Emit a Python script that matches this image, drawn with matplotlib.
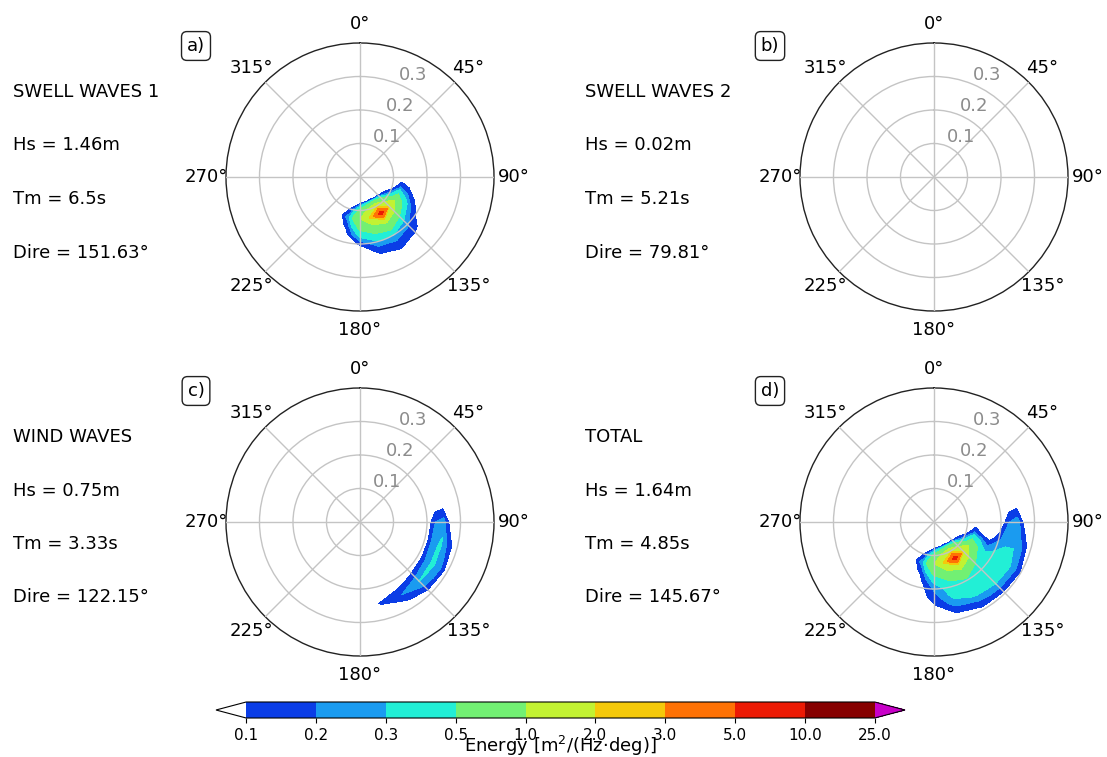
import numpy as np
import matplotlib
matplotlib.use('Agg')
import matplotlib.pyplot as plt
from matplotlib.colors import ListedColormap, BoundaryNorm
from matplotlib.cm import ScalarMappable

# niveles de energia y colores de la barra
LEVELS = [0.1, 0.2, 0.3, 0.5, 1.0, 2.0, 3.0, 5.0, 10.0, 25.0]
COLORS = ['#0b3de6', '#1a9bf0', '#22efd6', '#72f073', '#c2f232',
          '#f5c90a', '#ff7205', '#ec1a04', '#860000']

# malla del espectro: direccion (grados) x frecuencia (Hz)
DIRS = [60, 75, 90, 105, 120, 135, 150, 165, 180, 195, 210, 225]
FREQS = [0.05, 0.075, 0.1, 0.125, 0.15, 0.175, 0.2, 0.225, 0.25, 0.275, 0.3, 0.325]

# filas = frecuencias, columnas = direcciones
swell1 = [
    [0, 0, 0, 0, 0, 0, 0, 0, 0, 0, 0, 0],
    [0, 0, 0, 0, 0, 0.05, 0.11, 0.1, 0, 0, 0, 0],
    [0, 0, 0, 0, 0.25, 0.9, 1.5, 1.1, 0.6, 0.12, 0, 0],
    [0, 0, 0, 0.22, 0.7, 1.8, 6.0, 2.2, 1.0, 0.3, 0, 0],
    [0, 0, 0, 0.12, 0.4, 0.8, 1.2, 0.9, 0.6, 0.13, 0, 0],
    [0, 0, 0, 0, 0.2, 0.35, 0.6, 0.5, 0.35, 0.05, 0, 0],
    [0, 0, 0, 0, 0.05, 0.22, 0.3, 0.28, 0.12, 0, 0, 0],
    [0, 0, 0, 0, 0, 0.14, 0.17, 0.14, 0, 0, 0, 0],
    [0, 0, 0, 0, 0, 0, 0.09, 0.05, 0, 0, 0, 0],
    [0, 0, 0, 0, 0, 0, 0, 0, 0, 0, 0, 0],
    [0, 0, 0, 0, 0, 0, 0, 0, 0, 0, 0, 0],
    [0, 0, 0, 0, 0, 0, 0, 0, 0, 0, 0, 0],
]

swell2 = [
    [0, 0, 0, 0, 0, 0, 0, 0, 0, 0, 0, 0],
    [0, 0, 0, 0, 0, 0, 0, 0, 0, 0, 0, 0],
    [0, 0, 0, 0, 0, 0, 0, 0, 0, 0, 0, 0],
    [0, 0, 0, 0, 0, 0, 0, 0, 0, 0, 0, 0],
    [0, 0, 0.01, 0.01, 0, 0, 0, 0, 0, 0, 0, 0],
    [0, 0.01, 0.02, 0.01, 0, 0, 0, 0, 0, 0, 0, 0],
    [0, 0, 0.01, 0.01, 0, 0, 0, 0, 0, 0, 0, 0],
    [0, 0, 0, 0, 0, 0, 0, 0, 0, 0, 0, 0],
    [0, 0, 0, 0, 0, 0, 0, 0, 0, 0, 0, 0],
    [0, 0, 0, 0, 0, 0, 0, 0, 0, 0, 0, 0],
    [0, 0, 0, 0, 0, 0, 0, 0, 0, 0, 0, 0],
    [0, 0, 0, 0, 0, 0, 0, 0, 0, 0, 0, 0],
]

wind = [
    [0, 0, 0, 0, 0, 0, 0, 0, 0, 0, 0, 0],
    [0, 0, 0, 0, 0, 0, 0, 0, 0, 0, 0, 0],
    [0, 0, 0, 0, 0, 0, 0, 0, 0, 0, 0, 0],
    [0, 0, 0, 0, 0, 0, 0, 0, 0, 0, 0, 0],
    [0, 0, 0, 0, 0, 0, 0, 0, 0, 0, 0, 0],
    [0, 0, 0, 0, 0, 0, 0, 0, 0, 0, 0, 0],
    [0, 0, 0, 0, 0, 0, 0, 0, 0, 0, 0, 0],
    [0, 0, 0.2, 0.24, 0.2, 0.15, 0.08, 0, 0, 0, 0, 0],
    [0, 0, 0.25, 0.32, 0.33, 0.305, 0.2, 0.12, 0, 0, 0, 0],
    [0, 0, 0, 0.15, 0.22, 0.18, 0.08, 0, 0, 0, 0, 0],
    [0, 0, 0, 0, 0.02, 0, 0, 0, 0, 0, 0, 0],
    [0, 0, 0, 0, 0, 0, 0, 0, 0, 0, 0, 0],
]

total = [
    [0, 0, 0, 0, 0, 0, 0, 0, 0, 0, 0, 0],
    [0, 0, 0, 0, 0, 0.05, 0.11, 0.1, 0, 0, 0, 0],
    [0, 0, 0, 0, 0.25, 0.9, 1.5, 1.1, 0.6, 0.12, 0, 0],
    [0, 0, 0, 0.22, 0.7, 1.8, 6.0, 2.2, 1.0, 0.3, 0, 0],
    [0, 0, 0, 0.1, 0.5, 0.9, 1.3, 1.0, 0.6, 0.13, 0, 0],
    [0, 0, 0, 0.04, 0.3, 0.5, 0.7, 0.55, 0.35, 0.05, 0, 0],
    [0, 0, 0, 0.18, 0.35, 0.42, 0.45, 0.38, 0.22, 0, 0, 0],
    [0, 0, 0.2, 0.26, 0.4, 0.42, 0.4, 0.34, 0.15, 0, 0, 0],
    [0, 0, 0.26, 0.28, 0.36, 0.36, 0.32, 0.25, 0.08, 0, 0, 0],
    [0, 0, 0, 0.18, 0.25, 0.22, 0.18, 0.12, 0, 0, 0, 0],
    [0, 0, 0, 0, 0.08, 0.06, 0.06, 0, 0, 0, 0, 0],
    [0, 0, 0, 0, 0, 0, 0, 0, 0, 0, 0, 0],
]

panel_tags = ['a)', 'b)', 'c)', 'd)']
panel_titles = ['SWELL WAVES 1', 'SWELL WAVES 2', 'WIND WAVES', 'TOTAL']
hs = [1.46, 0.02, 0.75, 1.64]
tm = ['6.5', '5.21', '3.33', '4.85']
dire = ['151.63', '79.81', '122.15', '145.67']
spectra = [swell1, swell2, wind, total]

W, H = 1107, 757
fig = plt.figure(figsize=(W / 100, H / 100), dpi=100)

cmap = ListedColormap(COLORS)
cmap.set_under('white')
cmap.set_over('#c800c8')
norm = BoundaryNorm(LEVELS, cmap.N)

# centros de los paneles en pixeles (x, y desde arriba)
centers = [(360, 177), (934, 177), (360, 522), (934, 522)]
R = 134
text_x = [13, 585, 13, 585]

theta = np.deg2rad(DIRS)
for i, (cx, cy) in enumerate(centers):
    ax = fig.add_axes([(cx - R) / W, 1 - (cy + R) / H, 2 * R / W, 2 * R / H],
                      projection='polar')
    ax.set_theta_zero_location('N')
    ax.set_theta_direction(-1)
    Z = np.array(spectra[i])
    if Z.max() >= LEVELS[0]:
        ax.contourf(theta, FREQS, Z, levels=LEVELS, cmap=cmap, norm=norm,
                    extend='max', zorder=1)
    ax.set_ylim(0, 0.4)
    ax.set_yticks([0.1, 0.2, 0.3])
    ax.set_yticklabels(['0.1', '0.2', '0.3'], color='#8c8c8c', fontsize=13)
    ax.set_rlabel_position(22.5)
    ax.set_thetagrids(range(0, 360, 45), fontsize=13)
    ax.set_axisbelow(False)
    ax.grid(color='#c4c4c4', linewidth=1.0)
    ax.spines['polar'].set_linewidth(1.0)
    ax.spines['polar'].set_color('#222222')

    # etiqueta del panel
    fig.text((cx - 164) / W, 1 - (cy - 131) / H, panel_tags[i], ha='center',
             va='center', fontsize=13,
             bbox=dict(boxstyle='round,pad=0.3', fc='white', ec='#222222', lw=1))

    # textos de resumen
    base = cy - 80
    lines = [panel_titles[i], 'Hs = %.2fm' % hs[i], 'Tm = %ss' % tm[i],
             'Dire = %s°' % dire[i]]
    for k, txt in enumerate(lines):
        fig.text(text_x[i] / W, 1 - (base + 53.5 * k) / H, txt, ha='left',
                 va='baseline', fontsize=13)

# barra de colores (incluye los triangulos de extension)
cax = fig.add_axes([216 / W, 1 - 718 / H, 689 / W, 16 / H])
sm = ScalarMappable(norm=norm, cmap=cmap)
cb = fig.colorbar(sm, cax=cax, orientation='horizontal', extend='both',
                  ticks=LEVELS, spacing='uniform', extendfrac=0.048)
cb.ax.set_xticklabels(['%.1f' % v for v in LEVELS], fontsize=11)
cb.set_label('Energy [m$^2$/(Hz·deg)]', fontsize=13, labelpad=-6)
cb.outline.set_linewidth(0.8)

fig.savefig('out.png', dpi=100)
